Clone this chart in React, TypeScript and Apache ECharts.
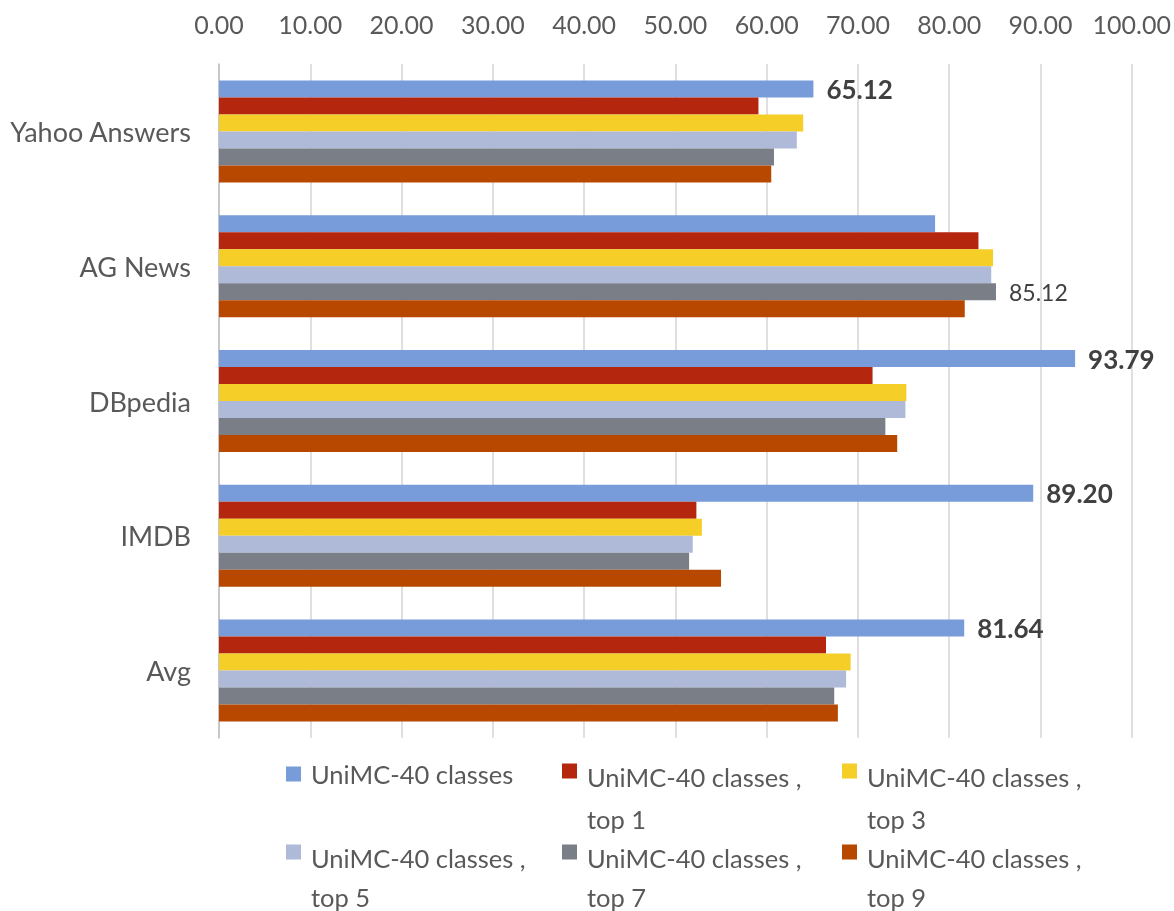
import React, { useEffect, useRef } from "react";
import * as echarts from "echarts";

const categories = ["Yahoo Answers", "AG News", "DBpedia", "IMDB", "Avg"];
const seriesNames = [
  "UniMC-40 classes",
  "UniMC-40 classes , top 1",
  "UniMC-40 classes , top 3",
  "UniMC-40 classes , top 5",
  "UniMC-40 classes , top 7",
  "UniMC-40 classes , top 9",
];
const blueVals = [65.12, 78.45, 93.79, 89.2, 81.64];
const redVals = [59.1, 83.2, 71.6, 52.3, 66.5];
const yellowVals = [64.0, 84.8, 75.3, 52.9, 69.2];
const lavenderVals = [63.3, 84.6, 75.2, 51.9, 68.7];
const grayVals = [60.8, 85.12, 73.0, 51.5, 67.4];
const orangeVals = [60.5, 81.7, 74.3, 55.0, 67.8];
const allVals = [blueVals, redVals, yellowVals, lavenderVals, grayVals, orangeVals];
const colors = ["#789bd9", "#b4270e", "#f5ce27", "#aebad8", "#7a7e87", "#b84800"];
const xMin = 0;
const xMax = 100;
const xStep = 10;

const FONT = "Lato";

export default function App() {
  const ref = useRef<HTMLDivElement>(null);
  useEffect(() => {
    if (!ref.current) return;
    const chart = echarts.init(ref.current, undefined, { renderer: "svg" });
    const maxIdx = categories.map((_, ci) => {
      let best = 0;
      allVals.forEach((arr, si) => {
        if (arr[ci] > allVals[best][ci]) best = si;
      });
      return best;
    });
    const series = allVals.map((vals, si) => ({
      type: "bar",
      name: seriesNames[si],
      barWidth: 17,
      barGap: "0%",
      itemStyle: { color: colors[si] },
      data: vals.map((v, ci) => ({
        value: v,
        label: {
          show: maxIdx[ci] === si,
          position: "right",
          distance: 13,
          formatter: (p: any) => Number(p.value).toFixed(2),
          fontFamily: FONT,
          fontSize: si === 0 ? 26 : 23,
          fontWeight: si === 0 ? "bold" : "normal",
          color: "#404040",
        },
      })),
    }));
    const legendPos = [
      { left: 286, line1: 774, lh: 42 },
      { left: 562, line1: 777, lh: 42 },
      { left: 842, line1: 777, lh: 42 },
      { left: 286, line1: 858, lh: 39 },
      { left: 562, line1: 858, lh: 39 },
      { left: 842, line1: 858, lh: 39 },
    ];
    const legends = seriesNames.map((n, i) => {
      const twoLine = i > 0;
      const lh = legendPos[i].lh;
      const h = twoLine ? lh + 27 : 15;
      return {
        data: [n],
        left: legendPos[i].left,
        top: legendPos[i].line1 - lh / 2,
        padding: 0,
        itemWidth: 20,
        itemHeight: h,
        icon: `path://M0,0h15v15h-15z M20,${h}`,
        selectedMode: false,
        formatter: (name: string) => name.replace(" , ", " ,\n"),
        textStyle: {
          fontFamily: FONT,
          fontSize: 25.5,
          color: "#595959",
          lineHeight: lh,
        },
      };
    });
    chart.setOption({
      animation: false,
      grid: { left: 219, right: 40, top: 64, bottom: 173, containLabel: false },
      legend: legends,
      xAxis: {
        type: "value",
        position: "top",
        min: xMin,
        max: xMax,
        interval: xStep,
        axisLine: { show: false },
        axisTick: { show: false },
        splitLine: { lineStyle: { color: "#d4d4d4", width: 1.5 } },
        axisLabel: {
          formatter: (v: number) => v.toFixed(2),
          fontFamily: FONT,
          fontSize: 25,
          color: "#595959",
          margin: 28,
        },
      },
      yAxis: {
        type: "category",
        data: categories,
        inverse: true,
        axisLine: { show: true, lineStyle: { color: "#bfbfbf", width: 1.5 } },
        axisTick: { show: false },
        axisLabel: {
          fontFamily: FONT,
          fontSize: 27,
          color: "#595959",
          margin: 28,
        },
      },
      series,
    });
    return () => chart.dispose();
  }, []);
  return (
    <div
      ref={ref}
      style={{ position: "fixed", left: 0, top: 0, width: 1174, height: 911 }}
    />
  );
}
